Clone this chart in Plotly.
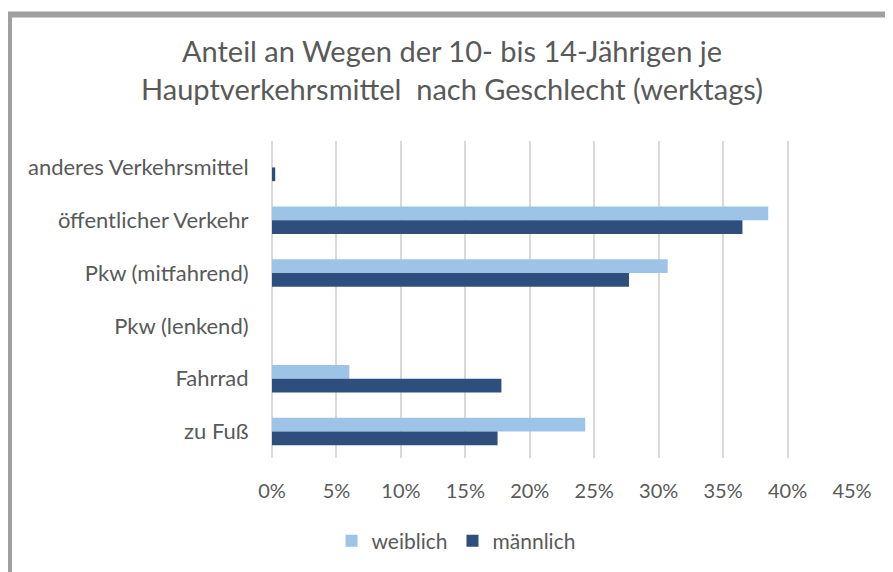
import plotly.graph_objects as go

categories = ["anderes Verkehrsmittel", "öffentlicher Verkehr", "Pkw (mitfahrend)",
              "Pkw (lenkend)", "Fahrrad", "zu Fuß"]
weiblich = [0.0, 0.385, 0.307, 0.0, 0.060, 0.243]
maennlich = [0.0025, 0.365, 0.277, 0.0, 0.178, 0.175]
x_ticks = [0, 0.05, 0.10, 0.15, 0.20, 0.25, 0.30, 0.35, 0.40, 0.45]
x_tick_labels = ["0%", "5%", "10%", "15%", "20%", "25%", "30%", "35%", "40%", "45%"]

FONT = "Lato, Carlito, Calibri, sans-serif"
GREY = "#595959"

fig = go.Figure()
fig.add_trace(go.Bar(y=categories, x=weiblich, orientation="h", name="weiblich",
                     marker=dict(color="#9DC3E6", line=dict(width=0))))
fig.add_trace(go.Bar(y=categories, x=maennlich, orientation="h", name="männlich",
                     marker=dict(color="#2E4F7E", line=dict(width=0))))

# page body has an 8px margin, so the figure is offset by 8px in the window
OFF = 8
W, H = 893 - OFF, 572 - OFF
L, R, T, B = 272 - OFF, 41, 141 - OFF, 113
pw, ph = W - L - R, H - T - B

def px_x(x):
    return (x - OFF - L) / pw

def px_y(y):
    return (H - B - (y - OFF)) / ph

fig.update_layout(
    width=W, height=H,
    margin=dict(l=L, r=R, t=T, b=B, pad=0),
    paper_bgcolor="white", plot_bgcolor="white",
    barmode="group", bargap=0.48, bargroupgap=0,
    font=dict(family=FONT, color=GREY, size=20),
    title=dict(text="Anteil an Wegen der 10- bis 14-Jährigen je<br>Hauptverkehrsmittel  nach Geschlecht (werktags)",
               x=(452 - OFF) / W, xanchor="center", y=1 - 54 / H, yanchor="middle",
               font=dict(family=FONT, size=29, color=GREY)),
    xaxis=dict(range=[0, 0.45], tickvals=x_ticks, ticktext=x_tick_labels,
               showgrid=True, gridcolor="#D9D9D9", gridwidth=2,
               zeroline=True, zerolinecolor="#D9D9D9", zerolinewidth=2,
               showline=False, ticks="outside", ticklen=15, tickcolor="rgba(0,0,0,0)",
               tickfont=dict(size=20, color=GREY), automargin=False),
    yaxis=dict(autorange="reversed", showgrid=False, zeroline=False, showline=False,
               ticks="outside", ticklen=18, tickcolor="rgba(0,0,0,0)",
               tickfont=dict(size=22, color=GREY), automargin=False),
    legend=dict(orientation="h", x=px_x(456), xanchor="center", y=px_y(541), yanchor="middle",
                font=dict(size=21, color=GREY), traceorder="normal",
                itemwidth=30, bgcolor="rgba(0,0,0,0)"),
    showlegend=True,
)

fig.add_shape(type="rect", xref="paper", yref="paper",
              x0=px_x(9), x1=px_x(920), y0=px_y(600), y1=px_y(14),
              line=dict(color="#A0A0A0", width=6), fillcolor="rgba(0,0,0,0)", layer="above")

fig.write_html("out.html")
